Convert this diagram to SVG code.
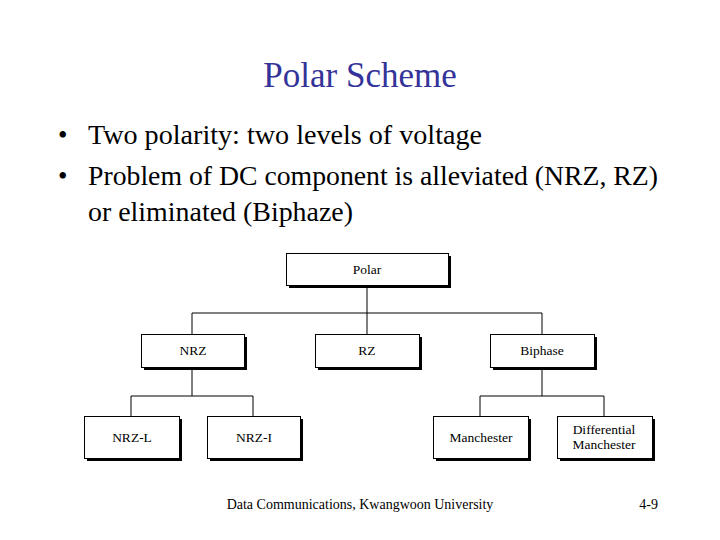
<svg xmlns="http://www.w3.org/2000/svg" width="720" height="540" viewBox="0 0 720 540" font-family="'Liberation Serif', 'Times New Roman', 'DejaVu Serif', serif">
<style>
.b{fill:#fff;stroke:#000;stroke-width:1}
.s{fill:#000}
.t{font-size:13.5px;text-anchor:middle;fill:#000}
.c{stroke:#000;stroke-width:1;fill:none}
.h{fill:#000}
</style>
<rect width="720" height="540" fill="#fff"/>
<text x="360" y="87" font-size="35" text-anchor="middle" fill="#333399">Polar Scheme</text>
<text x="58" y="144" class="h" font-size="27">•</text>
<text x="88" y="144" class="h" font-size="27" textLength="394" lengthAdjust="spacingAndGlyphs">Two polarity: two levels of voltage</text>
<text x="58" y="185" class="h" font-size="27">•</text>
<text x="88" y="185" class="h" font-size="27" textLength="570" lengthAdjust="spacingAndGlyphs">Problem of DC component is alleviated (NRZ, RZ)</text>
<text x="88" y="221" class="h" font-size="27" textLength="265" lengthAdjust="spacingAndGlyphs">or eliminated (Biphaze)</text>
<g id="connectors">
<path class="c" d="M367 285V313M192 313H542M192 313V334M367 313V334M542 313V334M192 367V396M131 396H253M131 396V416M253 396V416M542 367V396M480 396H604M480 396V416M604 396V416"/>
</g>
<g id="polar"><rect class="s" x="289" y="256" width="162" height="32"/><rect class="b" x="286.5" y="253.5" width="162" height="32"/><text class="t" x="367" y="274">Polar</text></g>
<g id="nrz"><rect class="s" x="144" y="337" width="103" height="33"/><rect class="b" x="141.5" y="334.5" width="103" height="33"/><text class="t" x="193" y="355">NRZ</text></g>
<g id="rz"><rect class="s" x="318" y="337" width="104" height="33"/><rect class="b" x="315.5" y="334.5" width="104" height="33"/><text class="t" x="367" y="355">RZ</text></g>
<g id="biphase"><rect class="s" x="493" y="337" width="104" height="33"/><rect class="b" x="490.5" y="334.5" width="104" height="33"/><text class="t" x="542" y="355">Biphase</text></g>
<g id="nrzl"><rect class="s" x="87" y="419" width="95" height="42"/><rect class="b" x="84.5" y="416.5" width="95" height="42"/><text class="t" x="132" y="442">NRZ-L</text></g>
<g id="nrzi"><rect class="s" x="210" y="419" width="93" height="42"/><rect class="b" x="207.5" y="416.5" width="93" height="42"/><text class="t" x="254" y="442">NRZ-I</text></g>
<g id="manchester"><rect class="s" x="436" y="419" width="95" height="42"/><rect class="b" x="433.5" y="416.5" width="95" height="42"/><text class="t" x="481" y="442">Manchester</text></g>
<g id="diff"><rect class="s" x="560" y="419" width="95" height="42"/><rect class="b" x="557.5" y="416.5" width="95" height="42"/><text class="t" x="604" y="434">Differential</text><text class="t" x="604" y="449">Manchester</text></g>
<text x="360" y="509" class="h" font-size="14" text-anchor="middle">Data Communications, Kwangwoon University</text>
<text x="658" y="509" class="h" font-size="14" text-anchor="end">4-9</text>
</svg>
